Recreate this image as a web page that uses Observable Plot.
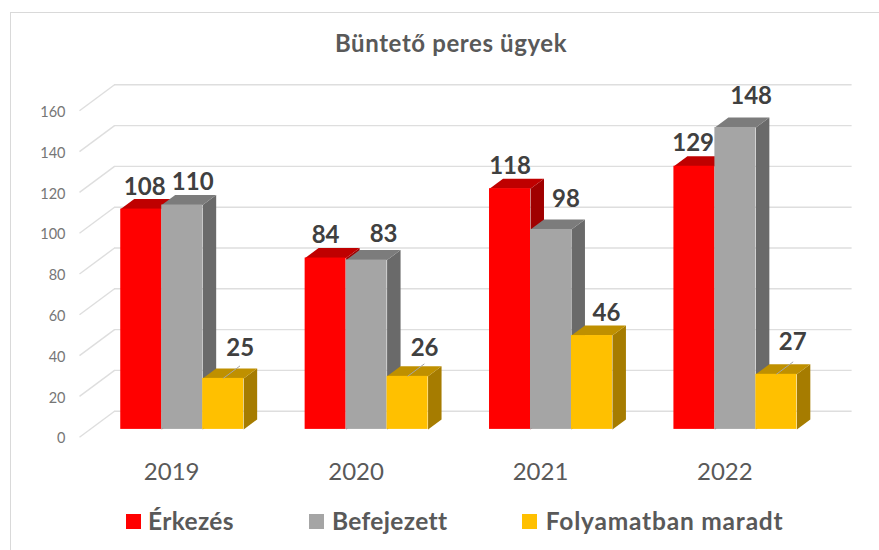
<!DOCTYPE html>
<html>
<head>
<meta charset="utf-8">
<script src="https://cdn.jsdelivr.net/npm/d3@7"></script>
<script src="https://cdn.jsdelivr.net/npm/@observablehq/plot@0.6"></script>
<style>
  html, body { margin: 0; padding: 0; background: #fff; }
  #page { position: relative; width: 879px; height: 550px; overflow: hidden; font-family: Lato, sans-serif; }
  #frame { position: absolute; left: 10px; top: 12px; right: -4px; bottom: -4px; border: 1px solid #d9d9d9; }
  #title { position: absolute; left: 0; top: 28px; width: 902px; text-align: center; font-size: 24px; letter-spacing: 0.6px; font-weight: 700; color: #595959; line-height: 30px; }
  #plot { position: absolute; left: 0; top: 60px; }
  .lg { position: absolute; top: 506px; font-size: 24.5px; font-weight: 700; color: #595959; line-height: 30px; white-space: nowrap; }
  .sw { position: absolute; top: 514px; width: 15px; height: 15px; }
</style>
</head>
<body>
<div id="page">
  <div id="frame"></div>
  <div id="title">Büntető peres ügyek</div>
  <div id="plot"></div>
</div>
<script>
const years = ["2019", "2020", "2021", "2022"];
const seriesNames = ["Érkezés", "Befejezett", "Folyamatban maradt"];
const erkezes = [108, 84, 118, 129];
const befejezett = [110, 83, 98, 148];
const folyamatban = [25, 26, 46, 27];
const yTicks = [0, 20, 40, 60, 80, 100, 120, 140, 160];

const frontColors = ["#FF0000", "#A5A5A5", "#FFC000"];
const topColors = ["#BF0000", "#7C7C7C", "#BF9000"];
const sideColors = ["#A00000", "#6A6A6A", "#A67C00"];
const leaderSeries = 2;
const labelShift = [
  [[3.5, -22], [10.5, -22.5], [17, -30]],
  [[0, -22.5], [17, -25.5], [17, -28]],
  [[0, -22.5], [15, -30], [14.5, -22.5]],
  [[-1.3, -23], [15.7, -31.3], [16.3, -32]]
];

// oblique 3-D projection: depth t in [0,1] moves a point right and up along the floor
const depthX = 0.19, depthY = 12.75;
const barFront = 0.3, barBack = 0.685;
const barW = 1 / 4.5, gap = 0.75 * barW;
const px = (u, t) => u + t * depthX;
const py = (v, t) => v + t * depthY;

const all = [erkezes, befejezett, folyamatban];
const barMarks = [];
const labelMarks = [];
years.forEach((year, i) => {
  all.forEach((vals, k) => {
    const v = vals[i];
    const l = i + gap + k * barW, r = l + barW;
    const side = [[r, v, barFront], [r, v, barBack], [r, 0, barBack], [r, 0, barFront]]
      .map(([u, w, t]) => ({x: px(u, t), y: py(w, t)}));
    const top = [[l, barFront], [r, barFront], [r, barBack], [l, barBack]]
      .map(([u, t]) => ({x: px(u, t), y: py(v, t)}));
    barMarks.push(
      Plot.line(side, {x: "x", y: "y", fill: sideColors[k], stroke: null}),
      Plot.line(top, {x: "x", y: "y", fill: topColors[k], stroke: null}),
      Plot.rect([{v}], {x1: () => px(l, barFront), x2: () => px(r, barFront), y1: () => py(0, barFront), y2: d => py(d.v, barFront), fill: frontColors[k]})
    );
    const c = (l + r) / 2;
    if (k === leaderSeries && v < 40) {
      labelMarks.push(Plot.link([{v}], {
        x1: () => px(c, barFront), y1: d => py(d.v, barFront),
        x2: () => px(c, barFront + 0.48), y2: d => py(d.v, barFront + 0.48),
        stroke: "#A6A6A6", strokeWidth: 1
      }));
    }
    const [dx, dy] = labelShift[i][k];
    labelMarks.push(Plot.text([{v}], {
      x: () => px(c, barFront), y: d => py(d.v, barFront), text: d => String(d.v),
      dx, dy, fontSize: 24, fontWeight: 700, fill: "#404040"
    }));
  });
});

const chart = Plot.plot({
  width: 879, height: 435,
  marginLeft: 79, marginRight: 27.4, marginTop: 24.3, marginBottom: 58.3,
  style: {fontFamily: "Lato, sans-serif", background: "transparent", overflow: "visible"},
  x: {domain: [0, 4 + depthX], axis: null},
  y: {domain: [0, 160 + depthY], axis: null},
  marks: [
    Plot.ruleY(yTicks, {y: d => py(d, 1), x1: () => px(0, 1), x2: () => px(4, 1), stroke: "#DEDEDE", strokeWidth: 1.4}),
    Plot.link(yTicks, {x1: () => px(0, 0), y1: d => py(d, 0), x2: () => px(0, 1), y2: d => py(d, 1), stroke: "#DEDEDE", strokeWidth: 1.4}),
    Plot.axisY({ticks: yTicks, anchor: "left", tickSize: 0, tickPadding: 14, dy: 1.5, label: null, fontSize: 14.5, fill: "#767676", tickFormat: d => String(d)}),
    Plot.axisX({ticks: [0.5, 1.5, 2.5, 3.5], anchor: "bottom", tickSize: 0, tickPadding: 25.5, label: null, fontSize: 24, fill: "#595959", tickFormat: d => years[d - 0.5]}),
    ...barMarks,
    ...labelMarks
  ]
});
document.getElementById("plot").appendChild(chart);

const page = document.getElementById("page");
const swatchLeft = [125.5, 309, 522.3], textLeft = [148, 332, 545.7], spacing = [0.35, 0.35, 0.8];
seriesNames.forEach((name, k) => {
  const s = document.createElement("div");
  s.className = "sw"; s.style.left = swatchLeft[k] + "px"; s.style.background = frontColors[k];
  const t = document.createElement("div");
  t.className = "lg"; t.style.left = textLeft[k] + "px"; t.style.letterSpacing = spacing[k] + "px"; t.textContent = name;
  page.append(s, t);
});
</script>
</body>
</html>
